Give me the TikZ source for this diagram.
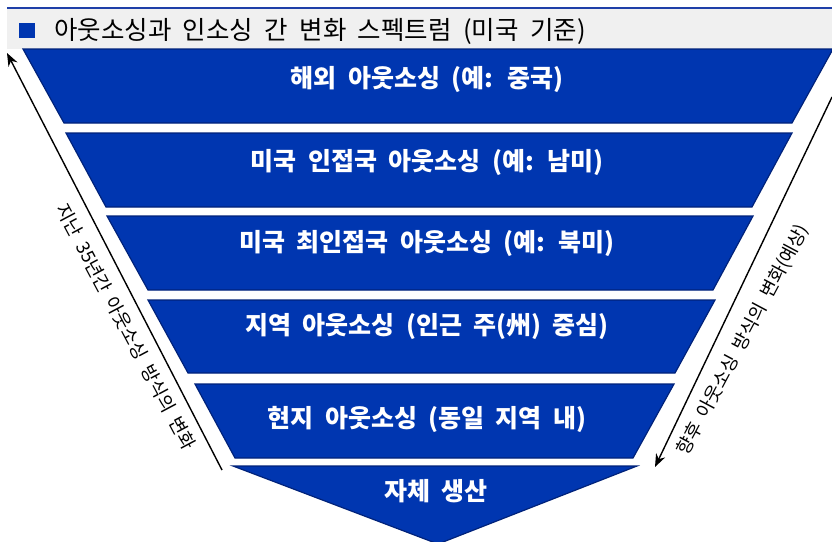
\documentclass[tikz,border=0pt]{standalone}
\usepackage{fontspec}
\setmainfont{Noto Sans CJK KR}
\newfontfamily\labfont[WordSpace=1.6]{Noto Sans CJK KR}
\newfontfamily\titfont[WordSpace=1.9]{Noto Sans CJK KR}
\newfontfamily\sidefont[WordSpace=2.0]{Noto Sans CJK KR}
\usetikzlibrary{arrows.meta}
\definecolor{funfill}{HTML}{0036B0}
\definecolor{fundraw}{HTML}{00227A}
\definecolor{topline}{HTML}{1F3FA8}
\definecolor{band}{HTML}{F0F0F0}
\tikzset{
  layer/.style={fill=funfill, draw=fundraw, line width=1.2pt, line join=miter},
  lab/.style={text=white, font=\labfont\bfseries\fontsize{25}{28}\selectfont, inner sep=0pt},
  sidelab/.style={text=black, font=\sidefont\fontsize{18.5}{21}\selectfont, inner sep=0pt},
  arr/.style={line width=1.4pt, -{Stealth[length=13pt,width=10pt]}}
}
\begin{document}
\begin{tikzpicture}[x=1pt,y=-1pt]
\useasboundingbox (0,0) rectangle (832,541);
% title band
\fill[band] (7,9) rectangle (832,49);
\draw[topline, line width=2.2pt] (7,8) -- (832,8);
\fill[funfill] (19,23) rectangle (35,38);
\node[anchor=west, inner sep=0pt, font=\titfont\fontsize{25.5}{28}\selectfont] (title) at (54,31) {아웃소싱과 인소싱 간 변화 스펙트럼 (미국 기준)};
% funnel layers
\draw[layer] (23,49) -- (833,49) -- (792,123) -- (64,123) -- cycle;
\draw[layer] (66,133) -- (792,133) -- (752,207) -- (106,207) -- cycle;
\draw[layer] (107,216) -- (753,216) -- (713,290) -- (148,290) -- cycle;
\draw[layer] (148,300) -- (715,300) -- (675,373) -- (188,373) -- cycle;
\draw[layer] (195,384) -- (674,384) -- (633,458) -- (235,458) -- cycle;
\draw[layer] (233,466) -- (637,466) -- (438,544) -- cycle;
\node[lab] (l1) at (427,79) {해외 아웃소싱 (예: 중국)};
\node[lab] (l2) at (427,162) {미국 인접국 아웃소싱 (예: 남미)};
\node[lab] (l3) at (427,243) {미국 최인접국 아웃소싱 (예: 북미)};
\node[lab] (l4) at (427,327) {지역 아웃소싱 (인근 주(州) 중심)};
\node[lab] (l5) at (427,419) {현지 아웃소싱 (동일 지역 내)};
\node[lab] (l6) at (436,491) {자체 생산};
% side arrows
\coordinate (la1) at (222,470);
\coordinate (la2) at (7,53);
\draw[arr] (la1) -- (la2);
\coordinate (ra1) at (832,97);
\coordinate (ra2) at (655,467);
\draw[arr] (ra1) -- (ra2);
\node[sidelab, rotate=-62] (lt) at (126,327) {지난 35년간 아웃소싱 방식의 변화};
\node[sidelab, rotate=62] (rt) at (743,340) {향후 아웃소싱 방식의 변화(예상)};
\end{tikzpicture}
\end{document}
